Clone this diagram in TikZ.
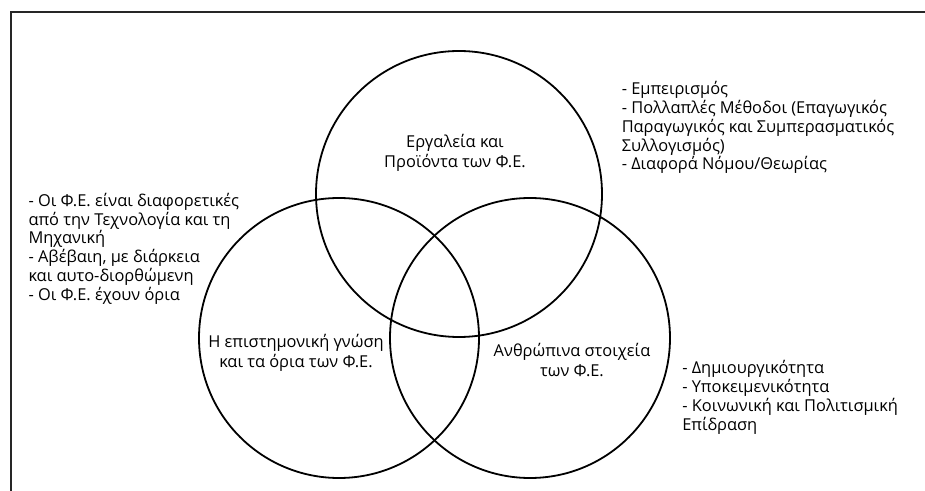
\documentclass[tikz,border=0pt]{standalone}
\usepackage{fontspec}
\setmainfont{Open Sans}
% stacked lines whose baseline is the baseline of the first line
\newcommand{\leftlines}[1]{\begin{tabular}[t]{@{}l@{}}#1\end{tabular}}
\newcommand{\midlines}[1]{\begin{tabular}[t]{@{}c@{}}#1\end{tabular}}
\begin{document}
\begin{tikzpicture}[x=0.75pt,y=-0.75pt,
  venn/.style={circle,draw=black,line width=1.35pt,minimum size=#1*1.5pt,inner sep=0pt},
  circlabel/.style={font=\fontsize{12.3}{15}\selectfont,inner sep=0pt,anchor=base},
  notes/.style={font=\fontsize{12.3}{13.75}\selectfont,inner sep=0pt,anchor=base west}]
\useasboundingbox (0,0) rectangle (925,491);
% open frame: left and top edges
\coordinate (fb) at (10.5,491);
\coordinate (ft) at (10.5,12);
\coordinate (fr) at (925,12);
\draw[line width=1.5pt,draw=black!85] (fb) -- (ft) -- (fr);
% the three sets
\node[venn=143] (tools) at (459,194) {};
\node[venn=140] (knowledge) at (339,338) {};
\node[venn=140] (human) at (530,338) {};
% set titles
\node[circlabel] (toolsT) at (455,148) {\midlines{Εργαλεία και\\Προϊόντα των Φ.Ε.}};
\node[circlabel] (knowT) at (296,348) {\midlines{Η επιστημονική γνώση\\και τα όρια των Φ.Ε.}};
\node[circlabel] (humanT) at (572,357) {\midlines{Ανθρώπινα στοιχεία\\των Φ.Ε.}};
% notes beside each set
\node[notes] (toolsN) at (621.5,95) {\leftlines{- Εμπειρισμός\\- Πολλαπλές Μέθοδοι (Επαγωγικός\\Παραγωγικός και Συμπερασματικός\\Συλλογισμός)\\- Διαφορά Νόμου/Θεωρίας}};
\node[notes] (knowN) at (28.3,206.5) {\leftlines{- Οι Φ.Ε. είναι διαφορετικές\\από την Τεχνολογία και τη\\Μηχανική\\- Αβέβαιη, με διάρκεια\\και αυτο-διορθώμενη\\- Οι Φ.Ε. έχουν όρια}};
\node[notes] (humanN) at (682,374) {\leftlines{- Δημιουργικότητα\\- Υποκειμενικότητα\\- Κοινωνική και Πολιτισμική\\Επίδραση}};
\end{tikzpicture}
\end{document}
